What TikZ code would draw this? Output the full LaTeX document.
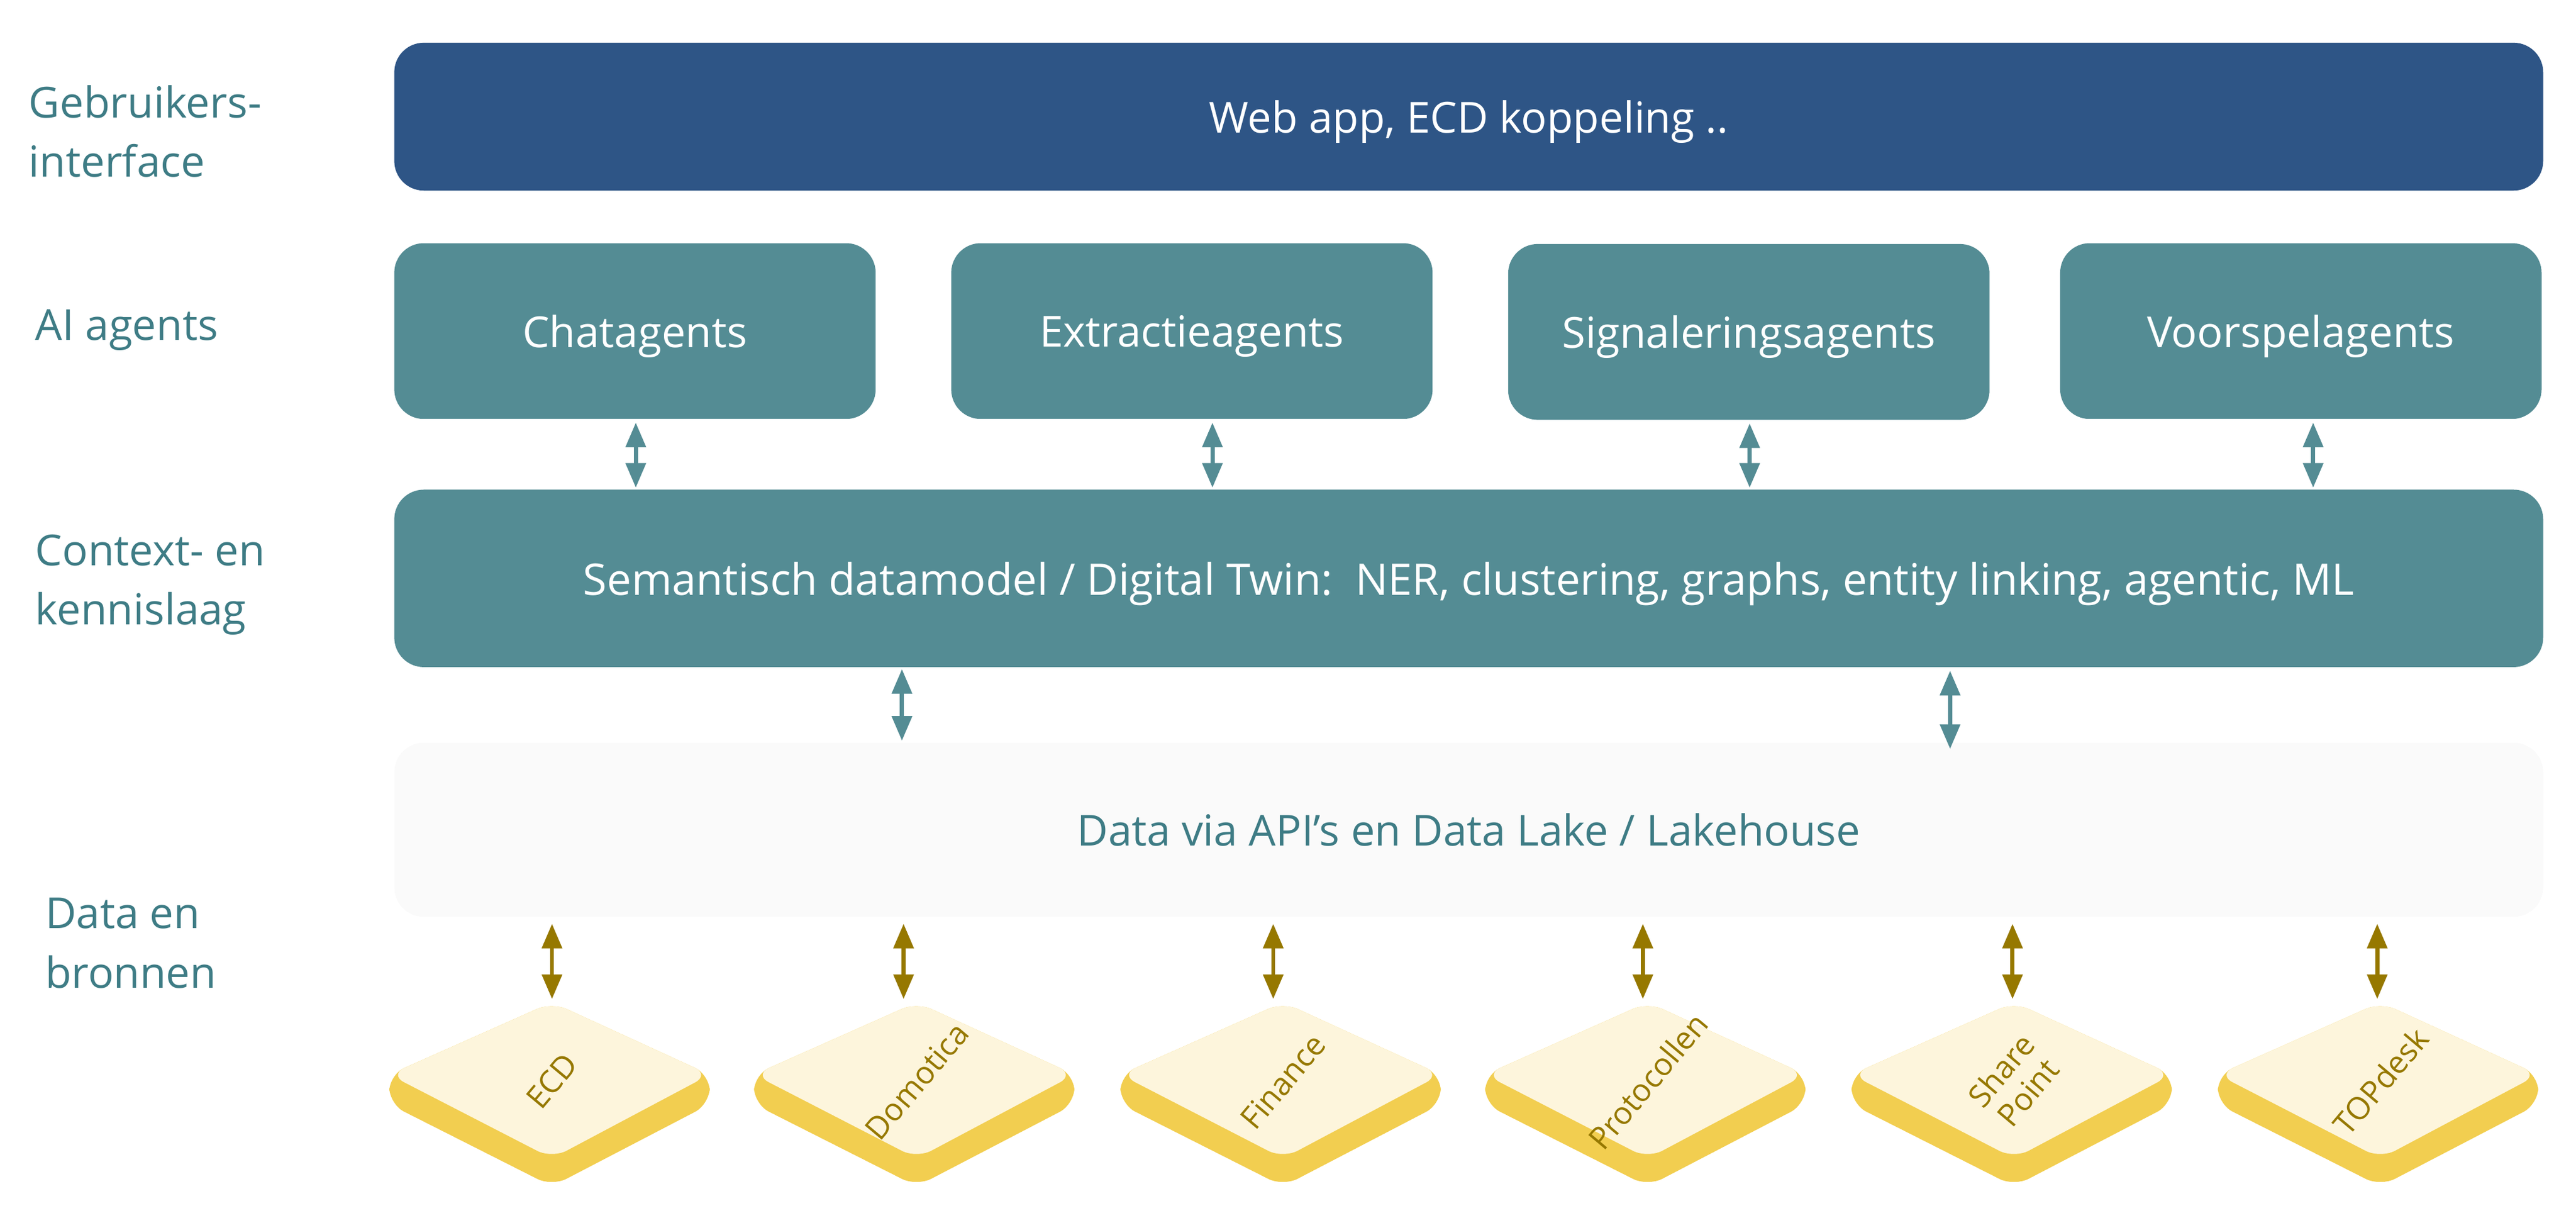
\documentclass[tikz,border=0pt]{standalone}
\usepackage{fontspec}
\setmainfont{Open Sans}
\usetikzlibrary{arrows.meta,positioning}
\definecolor{navy}{HTML}{2E5586}
\definecolor{teal}{HTML}{548C94}
\definecolor{labelteal}{HTML}{3E7C85}
\definecolor{gold}{HTML}{967800}
\definecolor{cream}{HTML}{FDF5DC}
\definecolor{sand}{HTML}{F2CE50}
\tikzset{
  bar/.style={draw=none,rounded corners=18pt,minimum height=#1,inner sep=0pt,text depth=0pt},
  agent/.style={bar=107pt,fill=teal,minimum width=293pt,text=white,font=\fontsize{26}{30}\selectfont},
  layer/.style={anchor=west,align=left,text=labelteal,font=\fontsize{26}{36}\selectfont},
  link/.style={{Stealth[length=15pt,width=12pt,inset=0pt]}-{Stealth[length=15pt,width=12pt,inset=0pt]},line width=2.5pt,draw=teal},
  glink/.style={link,draw=gold},
}
\newcommand{\tile}[3]{% name, x, label
  \fill[sand,rounded corners=10pt] (#2-99,-654)--(#2,-610)--(#2+96,-654)--(#2+96,-672)--(#2,-722)--(#2-99,-672)--cycle;
  \fill[cream,rounded corners=10pt] (#2-99,-654)--(#2,-610)--(#2+96,-654)--(#2,-705)--cycle;
  \node[rotate=50,text=gold,align=center,font=\fontsize{19}{21}\selectfont] (#1) at (#2,-658) {#3};
}
\begin{document}
\begin{tikzpicture}[x=1pt,y=1pt]
\useasboundingbox (0,0) rectangle (1568,-741);

% lagen
\node[layer] (lui) at (14,-80) {Gebruikers-\\interface};
\node[layer] (lai) at (18,-201) {AI agents};
\node[layer] (lctx) at (18,-356) {Context- en\\kennislaag};
\node[layer] (ldata) at (24,-574) {Data en\\bronnen};

% balken
\node[bar=90pt,fill=navy,minimum width=1308pt,text=white,font=\fontsize{26}{30}\selectfont] (ui) at (894,-71) {Web app, ECD koppeling ..};
\node[agent] (chat) at (386.5,-201.5) {Chatagents};
\node[agent] (extr) at (725.5,-201.5) {Extractieagents};
\node[agent] (sign) at (1064.5,-202) {Signaleringsagents};
\node[agent] (vsp) at (1400.5,-201.5) {Voorspelagents};
\node[bar=108pt,fill=teal,minimum width=1308pt,text=white,font=\fontsize{26.5}{30}\selectfont] (ctx) at (894,-352) {Semantisch datamodel / Digital Twin:\ \ NER, clustering, graphs, entity linking, agentic, ML};
\node[bar=106pt,fill=black!2,minimum width=1308pt,text=labelteal,font=\fontsize{26}{30}\selectfont] (data) at (894,-505) {Data via API’s en Data Lake / Lakehouse};

% pijlen agents
\foreach \a/\x in {chat/387,extr/738,sign/1065,vsp/1408}{
  \coordinate (p\a) at (\x,0);
  \draw[link] (ctx.north -| p\a) ++(0,1) -- ([yshift=-2pt]\a.south -| p\a);
}
\coordinate (q1) at (549,0);
\coordinate (q2) at (1187,0);
\draw[link] ([yshift=-1pt]ctx.south -| q1) -- ([yshift=1pt]data.north -| q1);
\draw[link] ([yshift=-2pt]ctx.south -| q2) -- ([yshift=-4pt]data.north -| q2);

% bronnen
\tile{ecd}{336}{ECD}
\tile{dom}{558}{Domotica}
\tile{fin}{781}{Finance}
\tile{prot}{1003}{Protocollen}
\tile{sp}{1226}{Share\\Point}
\tile{top}{1449}{TOPdesk}
\foreach \t/\x in {ecd/336,dom/550,fin/775,prot/1000,sp/1225,top/1447}{
  \coordinate (g\t) at (\x,-608);
  \draw[glink] ([yshift=-4pt]data.south -| g\t) -- (g\t);
}
\end{tikzpicture}
\end{document}
